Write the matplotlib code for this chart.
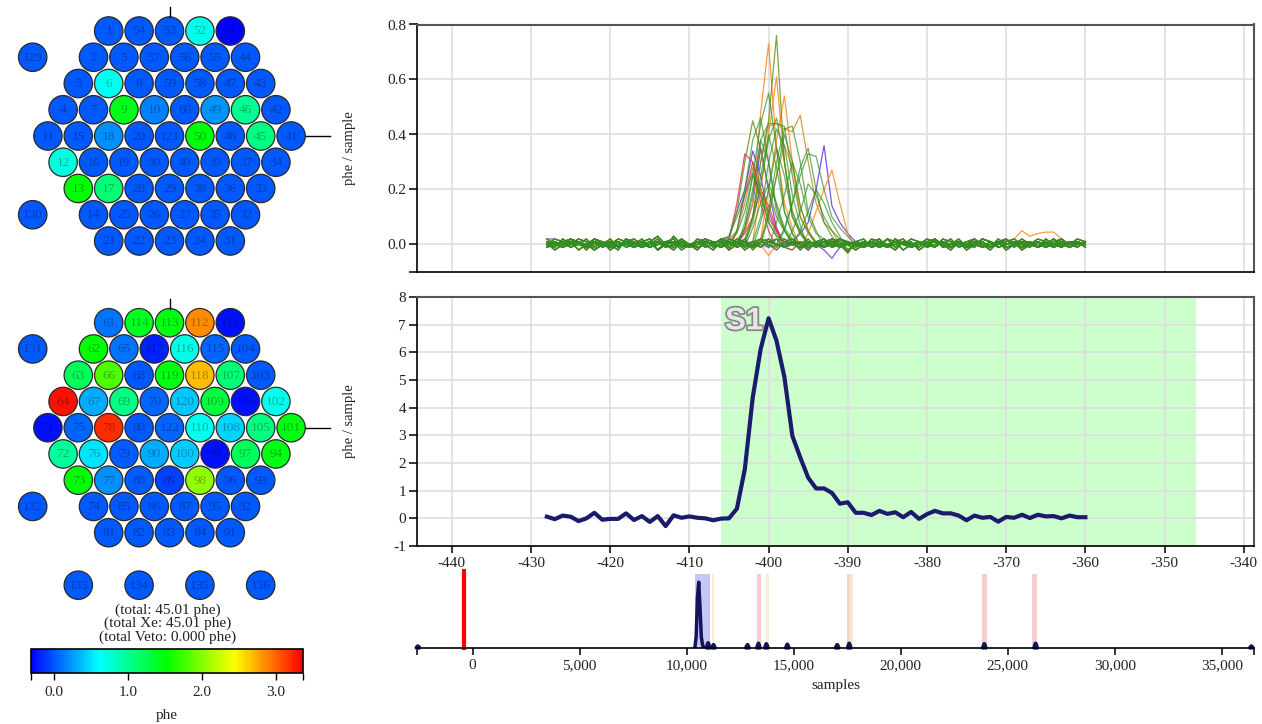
# coding: utf-8
import numpy as np
import matplotlib
matplotlib.use('Agg')
import matplotlib.pyplot as plt
from matplotlib.patches import Circle
from matplotlib.colors import LinearSegmentedColormap, Normalize
from matplotlib.cm import ScalarMappable
from matplotlib.ticker import FuncFormatter, FormatStrFormatter
import matplotlib.patheffects as pe

plt.rcParams['font.family'] = ['Liberation Serif', 'DejaVu Serif']
plt.rcParams['axes.unicode_minus'] = False

#------------------ data
top_rows = [[1, 54, 53, 52, 51],
            [2, 5, 57, 56, 55, 44],
            [3, 6, 8, 59, 58, 47, 43],
            [4, 7, 9, 10, 60, 49, 46, 42],
            [11, 15, 18, 20, 121, 50, 48, 45, 41],
            [12, 16, 19, 30, 40, 39, 37, 34],
            [13, 17, 28, 29, 38, 36, 33],
            [14, 25, 26, 27, 35, 32],
            [21, 22, 23, 24, 31]]
top_phe = [[0.0, 0.0, 0.0, 0.68, -0.3],
           [0.0, 0.0, 0.0, 0.0, 0.0, 0.0],
           [0.0, 0.65, 0.0, 0.0, 0.0, 0.0, 0.0],
           [0.0, 0.0, 1.42, 0.15, 0.0, 0.22, 1.0, 0.0],
           [0.0, 0.0, 0.2, 0.0, 0.0, 1.48, 0.0, 1.05, 0.0],
           [0.72, 0.0, 0.0, 0.0, 0.0, 0.0, 0.0, 0.0],
           [1.5, 1.1, 0.0, 0.0, 0.0, 0.0, 0.0],
           [0.0, 0.0, 0.0, 0.0, 0.0, 0.0],
           [0.0, 0.0, 0.0, 0.0, 0.0]]
top_extra = [129, 130]
top_extra_phe = [0.0, 0.0]

bot_rows = [[61, 114, 113, 112, 111],
            [62, 65, 117, 116, 115, 104],
            [63, 66, 68, 119, 118, 107, 103],
            [64, 67, 69, 70, 120, 109, 106, 102],
            [71, 75, 78, 80, 122, 110, 108, 105, 101],
            [72, 76, 79, 90, 100, 99, 97, 94],
            [73, 77, 88, 89, 98, 96, 93],
            [74, 85, 86, 87, 95, 92],
            [81, 82, 83, 84, 91]]
bot_phe = [[0.1, 1.4, 1.45, 2.85, -0.25],
           [1.5, 0.1, -0.2, 0.7, 0.05, 0.0],
           [1.2, 1.8, 0.0, 1.45, 2.68, 1.1, 0.0],
           [3.3, 0.3, 1.05, 0.05, 0.4, 1.3, -0.25, 0.66],
           [-0.25, 0.05, 3.2, 0.0, 0.05, 0.66, 0.45, 1.05, 1.45],
           [0.95, 0.5, 0.02, 0.3, 0.42, -0.25, 1.2, 1.45],
           [1.5, 0.2, 0.02, -0.08, 2.05, 0.0, 0.0],
           [0.0, 0.0, 0.0, 0.0, 0.0, 0.0],
           [0.0, 0.0, 0.0, 0.0, 0.0]]
bot_extra = [131, 132, 133, 134, 135, 136]
bot_extra_phe = [0.0, 0.0, 0.0, 0.0, 0.0, 0.0]

total_lines = ['(total: 45.01 phe)', '(total Xe: 45.01 phe)', '(total Veto: 0.000 phe)']
cbar_range = (-0.32, 3.36)
cbar_colors = ['#0000ff', '#00ffff', '#00ff00', '#ffff00', '#ff0000']

# summed waveform, samples -428 .. -360
samples = np.arange(-428, -359)
summed = [0.06, -0.03, 0.1, 0.06, -0.1, 0.0, 0.2, -0.05, -0.02, -0.02,
          0.18, -0.06, 0.08, -0.13, 0.08, -0.28, 0.11, 0.02, 0.07, 0.02,
          0.0, -0.07, -0.01, 0.0, 0.35, 1.78, 4.37, 6.12, 7.23, 6.42,
          5.1, 2.98, 2.2, 1.47, 1.08, 1.08, 0.92, 0.53, 0.58, 0.2,
          0.2, 0.12, 0.27, 0.16, 0.22, 0.04, 0.23, -0.02, 0.15, 0.27,
          0.18, 0.18, 0.1, -0.07, 0.1, 0.02, 0.05, -0.12, 0.05, 0.02,
          0.13, 0.01, 0.13, 0.07, 0.08, 0.0, 0.1, 0.04, 0.04]
s1_window = (-406, -346)

# per-PMT baselines (hundredths of phe/sample)
noise = [
    [1, 0, -1, 2, 1, -1, 0, 1, -2, 0, 1, 2, 0, -1, 1, 0, -2, 1, 0, 1,
     -1, 0, 2, 1, -1, 0, 1, -1, 2, 0, -1, 1, 0, -2, 1, 2, 0, -1, 1, 0,
     -1, 2, 1, 0, -2, 1, 0, 1, -1, 2, 0, -1, 1, 0, 2, -1, 0, 1, -2, 0,
     1, 1, -1, 0, 2, 0, -1, 1, 0],
    [0, 2, 1, -1, 0, 2, -1, 1, 0, -2, 2, 1, -1, 0, 1, -1, 3, 0, -1, 1,
     0, -2, 1, 0, 2, 1, -1, 0, -1, 2, 1, 0, -1, 1, 0, -1, 2, 1, -2, 0,
     1, -1, 0, 2, -1, 1, 0, -1, 1, 2, -1, 0, 1, -2, 0, 1, -1, 2, 0, 1,
     -1, 0, 2, 1, -1, 0, 1, 0, 1],
    [-1, 1, 0, 1, -2, 0, 2, 1, -1, 0, 0, -1, 1, 2, -2, 0, 1, 0, -1, 2,
     1, 0, -1, 1, 0, 2, -2, 1, 0, -1, 2, 0, -1, 0, 1, -1, 1, 2, 0, -2,
     0, 1, 2, -1, 0, 1, -1, 0, 2, 1, 0, -2, 1, 0, -1, 2, 1, -1, 0, 1,
     0, 1, -1, 2, 0, -1, 1, 1, 0],
    [2, 0, 1, -1, 1, 0, -2, 0, 1, 1, -1, 0, 2, -1, 0, 1, 1, -2, 0, 1,
     2, -1, 0, 1, -1, 0, 1, 2, -1, 0, 0, 1, -2, 1, 0, 2, -1, 0, 1, -1,
     1, 0, -1, 2, 1, -2, 0, 1, 0, -1, 2, 1, 0, -1, 1, 0, -2, 1, 2, 0,
     -1, 1, 0, -1, 1, 2, 0, 1, -1],
    [0, -1, 2, 0, 1, -2, 1, 0, 2, -1, 1, 0, -1, 1, 3, 0, -1, 2, 0, -1,
     0, 1, 1, -2, 0, 1, 0, -1, 1, 2, -1, 0, 1, 0, -1, 1, 2, 0, -3, 1,
     0, 1, -1, 0, 1, 2, -1, 0, 1, -1, 1, 0, 2, -1, 0, -1, 1, 0, 1, 2,
     0, -1, 1, 0, -1, 1, 0, 2, 1],
    [1, -2, 0, 1, 1, -1, 2, 0, -1, 1, 0, 1, -1, 0, 2, -1, 0, 1, -1, 0,
     2, 1, -1, 0, 1, -2, 0, 2, 1, 0, -1, 1, 0, 2, -1, 0, 1, -1, 0, 1,
     2, -1, 0, -1, 1, 0, 2, 1, -1, 0, 1, -1, 0, 1, 2, 0, -1, 1, -1, 0,
     2, 0, 1, -1, 0, 1, 0, -1, 1],
    [-1, 0, 1, 2, 0, -1, 1, -1, 0, 2, 1, -1, 0, 1, -2, 1, 0, 2, -1, 0,
     1, 0, -1, 2, 1, -1, 0, 1, 0, -2, 1, 2, 0, -1, 0, 1, -1, 2, 1, 0,
     -1, 0, 1, -1, 2, 0, 1, -2, 0, 1, 0, 2, -1, 0, 1, 1, -1, 0, 2, -1,
     1, 0, -1, 1, 0, 2, -1, 0, 0],
    [0, 1, -1, 0, 2, 1, -2, 0, 1, -1, 2, 0, 1, -1, 0, 1, 2, -1, 0, -2,
     1, 0, 2, -1, 1, 0, -1, 1, 2, 0, -1, -2, 1, 0, 1, -1, 0, 2, 0, 1,
     -1, 1, 0, -1, 2, 0, -1, 1, 0, 2, -1, 0, 1, -1, 0, 2, 1, -1, 0, 1,
     -2, 0, 1, 0, 2, -1, 1, 0, 1],
]

# per-PMT pulses: colour key, baseline index, first sample of pulse, pulse values
tr_color = ['P', 'P', 'P', 'P', 'P',
            'R', 'R', 'R', 'R',
            'O', 'O', 'O', 'O', 'O', 'O', 'O',
            'V', 'Y', 'V', 'Y',
            'G', 'G', 'G', 'G', 'G', 'G', 'G', 'G', 'G', 'G', 'G', 'G',
            'G', 'G', 'G', 'G', 'G', 'G', 'G', 'G', 'G', 'G', 'G', 'G']
tr_noise = [0, 3, 5, 6, 1,
            2, 4, 7, 0,
            1, 3, 5, 2, 6, 4, 7,
            2, 4, 0, 6,
            3, 5, 7, 1, 0, 2, 4, 6, 7, 1, 3, 5,
            0, 2, 4, 6, 7, 1, 2, 3, 4, 5, 6, 7]
tr_start = [-405, -403, -396, -393, -428,
            -405, -404, -403, -428,
            -403, -401, -400, -395, -401, -369, -400,
            -402, -402, -405, -404,
            -403, -404, -403, -402, -398, -404, -403, -402, -401, -400, -399, -398,
            -401, -400, -396, -402, -397, -405, -428, -428, -428, -428, -428, -428]
tr_pulse = [[0.02, 0.12, 0.2, 0.34, 0.25, 0.1, 0.05],
            [0.05, 0.15, 0.35, 0.2, 0.06],
            [0.04, 0.08, 0.2, 0.36, 0.14, 0.08, 0.04],
            [-0.02, -0.05, -0.01],
            [0.02],
            [0.02, 0.15, 0.33, 0.3, 0.15, 0.05],
            [0.05, 0.18, 0.3, 0.2, 0.12, 0.05],
            [0.04, 0.1, 0.2, 0.14, 0.06],
            [0.01],
            [0.05, 0.15, 0.48, 0.73, 0.35, 0.15, 0.06],
            [0.2, 0.4, 0.61, 0.3, 0.12, 0.04],
            [0.2, 0.38, 0.54, 0.3, 0.1, 0.05],
            [0.04, 0.12, 0.2, 0.27, 0.15, 0.04],
            [0.0, -0.04, 0.0],
            [0.02, 0.05, 0.03, 0.04, 0.045, 0.045, 0.02],
            [0.1, 0.25, 0.36, 0.28, 0.14, 0.05],
            [0.1, 0.3, 0.45, 0.76, 0.3, 0.1, 0.04],
            [0.1, 0.3, 0.43, 0.44, 0.42, 0.41, 0.47, 0.3, 0.15, 0.08, 0.05],
            [0.03, 0.12, 0.3, 0.45, 0.35, 0.2, 0.1, 0.05],
            [0.05, 0.15, 0.28, 0.2, 0.1, 0.04],
            [0.08, 0.25, 0.44, 0.55, 0.35, 0.12, 0.04],
            [0.05, 0.2, 0.38, 0.46, 0.3, 0.12, 0.05],
            [0.06, 0.2, 0.38, 0.44, 0.44, 0.43, 0.25, 0.1, 0.04],
            [0.08, 0.22, 0.38, 0.46, 0.3, 0.12, 0.05],
            [0.05, 0.15, 0.25, 0.33, 0.32, 0.2, 0.1, 0.06, 0.03],
            [0.04, 0.12, 0.25, 0.18, 0.08, 0.03],
            [0.06, 0.18, 0.38, 0.3, 0.14, 0.05],
            [0.1, 0.25, 0.4, 0.28, 0.12, 0.04],
            [0.08, 0.2, 0.35, 0.25, 0.1, 0.04],
            [0.1, 0.25, 0.4, 0.3, 0.14, 0.05],
            [0.08, 0.18, 0.3, 0.22, 0.1, 0.04],
            [0.06, 0.15, 0.28, 0.35, 0.2, 0.08, 0.03],
            [0.1, 0.3, 0.42, 0.36, 0.18, 0.07],
            [0.12, 0.3, 0.42, 0.43, 0.3, 0.12, 0.05],
            [0.05, 0.12, 0.2, 0.15, 0.08, 0.03],
            [0.06, 0.15, 0.22, 0.15, 0.06],
            [0.05, 0.12, 0.22, 0.18, 0.1, 0.05],
            [0.03, 0.1, 0.18, 0.26, 0.18, 0.08, 0.03],
            [0.0], [0.0], [0.0], [0.0], [0.0], [0.0]]
tr_palette = {'P': '#6a35e6', 'R': '#e0305a', 'O': '#ff8a1c',
              'V': '#6f8f1f', 'Y': '#c49028', 'G': '#2f8f22'}

# event timeline (samples)
tl_trigger = -400
tl_s1_band = (10370, 11070)
tl_pink_bands = [(13290, 13460), (17480, 17720), (23780, 24020), (26150, 26380)]
tl_beige_bands = [(11200, 11290), (13680, 13840), (17590, 17760)]
tl_main_samples = [10380, 10440, 10500, 10560, 10620, 10680, 10740, 10800]
tl_main_values = [0.0, 1.2, 5.5, 7.2, 4.5, 1.2, 0.3, 0.0]
tl_blob_samples = [-2560, 11000, 11250, 12840, 13350, 13720, 14700, 17030, 17590, 23900, 26300, 36380]
tl_blob_heights = [0.15, 0.5, 0.3, 0.3, 0.45, 0.4, 0.35, 0.3, 0.45, 0.4, 0.45, 0.15]

#------------------ figure
W, H = 1262, 724
fig = plt.figure(figsize=(W / 100, H / 100), dpi=100)
fs = 11

cmap = LinearSegmentedColormap.from_list('phe', cbar_colors)
norm = Normalize(*cbar_range)

# pixel canvas for the PMT maps
axp = fig.add_axes([0, 0, 1, 1])
axp.set_xlim(0, W)
axp.set_ylim(H, 0)
axp.axis('off')

cx, dx, dy, rad = 169.5, 30.4, 26.25, 14.2


def draw_pmt(x, y, num, val):
    axp.add_patch(Circle((x, y), rad, facecolor=cmap(norm(val)),
                         edgecolor='#2a2a2a', lw=0.9))
    axp.text(x, y + 0.5, str(num), ha='center', va='center', fontsize=9.5,
             color='black', alpha=0.3)


def draw_array(rows, phe, extra, extra_phe, extra_pos, y0):
    for r, (row, vals) in enumerate(zip(rows, phe)):
        n = len(row)
        for j, (num, v) in enumerate(zip(row, vals)):
            draw_pmt(cx + (j - (n - 1) / 2) * dx, y0 + r * dy, num, v)
    for num, v, (r, u) in zip(extra, extra_phe, extra_pos):
        draw_pmt(cx + u * dx, y0 + r * dy, num, v)
    # orientation marks
    axp.plot([cx, cx], [y0 - 24, y0 - rad], color='black', lw=1)
    axp.plot([cx + 4 * dx + rad + 1, 330], [y0 + 4 * dy] * 2, color='black', lw=1)


draw_array(top_rows, top_phe, top_extra, top_extra_phe,
           [(1, -4.5), (7, -4.5)], 31)
draw_array(bot_rows, bot_phe, bot_extra, bot_extra_phe,
           [(1, -4.5), (7, -4.5), (10, -3), (10, -1), (10, 1), (10, 3)], 322.7)

for k, s in enumerate(total_lines):
    axp.text(168, 610 + k * 13.5, s, ha='center', va='center', fontsize=fs,
             color='#222222')

#------------------ colour bar
cax = fig.add_axes([30.7 / W, 1 - 673.3 / H, 272 / W, 24 / H])
cb = fig.colorbar(ScalarMappable(norm=norm, cmap=cmap), cax=cax,
                  orientation='horizontal')
cb.set_ticks([0, 1, 2, 3])
cax.xaxis.set_major_formatter(FormatStrFormatter('%.1f'))
cax.set_xticks(list(cbar_range), minor=True)
cax.tick_params(which='both', length=5, width=1, labelsize=fs, pad=4,
                labelcolor='#222222')
cb.outline.set_linewidth(1.2)
cb.set_label('phe', fontsize=fs, color='#222222', labelpad=7)

#------------------ waveform panels
xlim = (-444.4, -338.7)
xt = np.arange(-440, -339, 10)

ax0 = fig.add_axes([417 / W, 1 - 272 / H, 837 / W, 247.5 / H])
ax1 = fig.add_axes([417 / W, 1 - 546 / H, 837 / W, 249 / H])

for ax in (ax0, ax1):
    ax.set_xlim(*xlim)
    ax.set_xticks(xt)
    ax.set_axisbelow(True)
    ax.grid(True, color='#dedede', lw=1.2)
    ax.spines['left'].set_linewidth(1.2)
    ax.spines['bottom'].set_linewidth(1.2)
    for sp in ('top', 'right'):
        ax.spines[sp].set_color('#555555')
        ax.spines[sp].set_linewidth(1.5)
    ax.tick_params(axis='y', which='both', length=6, width=1.1, pad=2,
                   labelsize=fs, labelcolor='#222222')
    ax.set_ylabel('phe / sample', fontsize=10.5, color='#222222')
    ax.yaxis.set_label_coords(-0.073, 0.5)

# individual PMT waveforms
for key in ['P', 'R', 'O', 'Y', 'V', 'G']:
    for c, n, st, pulse in zip(tr_color, tr_noise, tr_start, tr_pulse):
        if c != key:
            continue
        y = np.array(noise[n], dtype=float) / 100.0
        i0 = st - samples[0]
        y[i0:i0 + len(pulse)] = pulse
        ax0.plot(samples, y, color=tr_palette[c], lw=0.9,
                 alpha=0.7 if c == 'G' else 0.85)

ax0.set_ylim(-0.1, 0.8)
ax0.set_yticks([0, 0.2, 0.4, 0.6, 0.8])
ax0.set_yticks([-0.1], minor=True)
ax0.yaxis.set_major_formatter(FormatStrFormatter('%.1f'))
ax0.tick_params(axis='x', length=0, labelbottom=False)

# summed waveform
ax1.axvspan(*s1_window, color='#ccffcc', lw=0, zorder=0)
ax1.plot(samples, summed, color='#1b1b6b', lw=3)
ax1.text(s1_window[0] + 0.5, 6.83, 'S1', fontsize=22.5, fontweight='bold',
         family='Liberation Sans', color='#e6e6e6', ha='left', va='baseline',
         path_effects=[pe.withStroke(linewidth=2.5, foreground='#858585')])
ax1.set_ylim(-1, 8)
ax1.set_yticks(range(-1, 9))
ax1.tick_params(axis='x', length=5, width=1.1, pad=3, labelsize=fs,
                labelcolor='#222222')

#------------------ event timeline
ax2 = fig.add_axes([417 / W, 1 - 647.7 / H, 837 / W, 73.7 / H])
ax2.set_xlim(-2600, 36500)
ax2.set_ylim(0, 8.1)
for sp in ('top', 'right', 'left'):
    ax2.spines[sp].set_visible(False)
ax2.spines['bottom'].set_linewidth(1.2)
ax2.set_yticks([])
ax2.set_xticks(np.arange(0, 35001, 5000))
ax2.set_xticks([-2600, 36500], minor=True)
ax2.xaxis.set_major_formatter(FuncFormatter(lambda v, p: '{:,}'.format(int(v))))
ax2.tick_params(axis='x', which='both', length=5, width=1.1, pad=3,
                labelsize=fs, labelcolor='#222222')
ax2.set_xlabel('samples', fontsize=fs, color='#222222', labelpad=5)

ax2.axvspan(*tl_s1_band, color='#c6c6f7', lw=0)
for a, b in tl_pink_bands:
    ax2.axvspan(a, b, color='#f6cccc', lw=0)
for a, b in tl_beige_bands:
    ax2.axvspan(a, b, color='#fbe8c8', lw=0, alpha=0.8)
ax2.axvline(tl_trigger, color='#ff0000', lw=3, ymax=1.04, clip_on=False)
ax2.plot(tl_main_samples, tl_main_values, color='#14145a', lw=2.5)
for s, h in zip(tl_blob_samples, tl_blob_heights):
    ax2.plot([s - 60, s, s + 60], [0, h, 0], color='#14145a', lw=3,
             solid_capstyle='round', clip_on=False)

plt.savefig('out.png', dpi=100)
